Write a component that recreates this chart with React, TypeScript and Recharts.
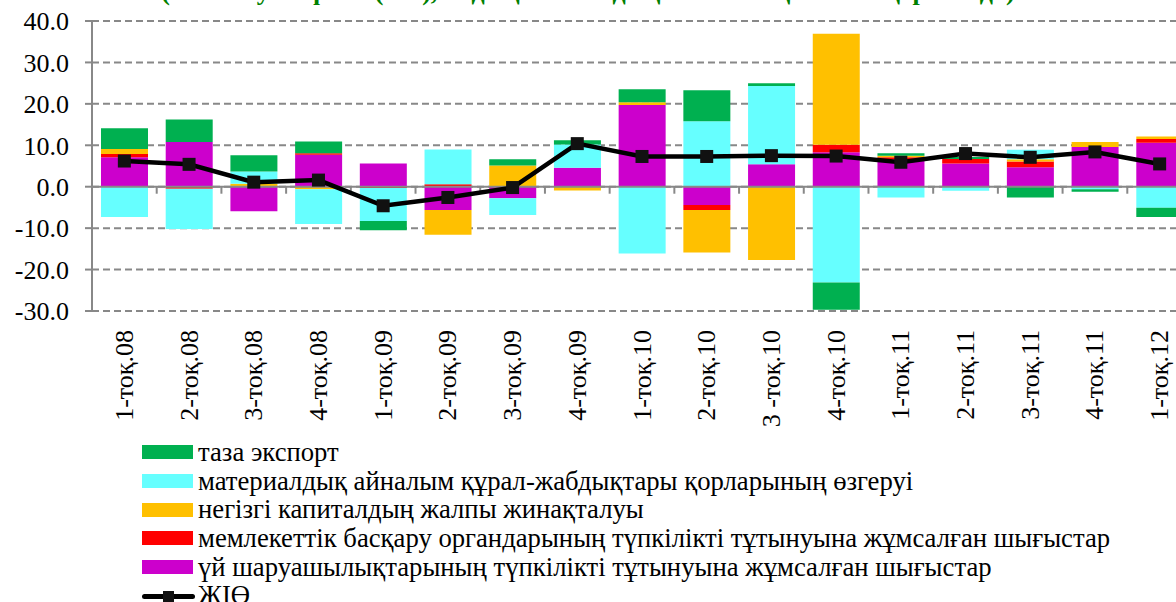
import { ComposedChart, Bar, Line, XAxis, YAxis, CartesianGrid, ReferenceLine } from 'recharts';

const quarters = [
  '1-тоқ.08', '2-тоқ.08', '3-тоқ.08', '4-тоқ.08',
  '1-тоқ.09', '2-тоқ.09', '3-тоқ.09', '4-тоқ.09',
  '1-тоқ.10', '2-тоқ.10', '3 -тоқ.10', '4-тоқ.10',
  '1-тоқ.11', '2-тоқ.11', '3-тоқ.11', '4-тоқ.11',
  '1-тоқ.12',
];

// contributions to growth, p.p.
const households = [7.1, 10.8, -5.9, 7.7, 5.6, -5.6, -2.8, 4.6, 19.7, -4.4, 5.4, 8.3, 6.6, 5.6, 4.7, 9.6, 10.6];
const government = [0.8, -0.5, 0, 0.4, -0.3, 0.6, 0, 0, 0, -1.2, 0, 1.8, 0.5, 1.1, 1.4, 0, 0.9];
const capital = [1.2, 0, 0.7, -0.6, 0, -6.0, 5.1, -0.9, 0.7, -10.3, -17.7, 26.8, 0.4, 0, 0.5, 1.2, 0.6];
const inventories = [-7.3, -9.7, 3.0, -8.4, -8.0, 8.4, -4.0, 5.6, -16.1, 15.8, 18.9, -23.1, -2.6, -1.0, 2.3, -0.6, -5.1];
const netExport = [5.0, 5.4, 3.9, 2.8, -2.2, 0, 1.5, 1.0, 3.1, 7.5, 0.7, -6.6, 0.6, 0.5, -2.6, -0.6, -2.2];
const gdp = [6.2, 5.4, 1.1, 1.6, -4.6, -2.6, -0.2, 10.4, 7.3, 7.3, 7.5, 7.4, 5.9, 8.0, 7.1, 8.4, 5.5];

const yTicks = [-30, -20, -10, 0, 10, 20, 30, 40];

const legendItems = [
  { name: 'таза экспорт', color: '#00B050' },
  { name: 'материалдық айналым құрал-жабдықтары қорларының өзгеруі', color: '#66FFFF' },
  { name: 'негізгі капиталдың жалпы жинақталуы', color: '#FFC000' },
  { name: 'мемлекеттік басқару органдарының түпкілікті тұтынуына жұмсалған шығыстар', color: '#FF0000' },
  { name: 'үй шаруашылықтарының түпкілікті тұтынуына жұмсалған шығыстар', color: '#CC00CC' },
];

const data = quarters.map((q, i) => ({
  quarter: q,
  households: households[i],
  government: government[i],
  capital: capital[i],
  inventories: inventories[i],
  netExport: netExport[i],
  gdp: gdp[i],
}));

const FONT = '"Liberation Serif", "Times New Roman", Times, Tinos, "Noto Serif", FreeSerif, "DejaVu Serif", serif';

function QuarterTick(props: any) {
  const { x, payload } = props;
  const y = 330;
  return (
    <text
      x={x}
      y={y}
      transform={`rotate(-90, ${x}, ${y})`}
      textAnchor="end"
      dominantBaseline="central"
      fontSize={26}
      fontFamily={FONT}
      fill="#000"
    >
      {payload.value}
    </text>
  );
}

function SquareDot(props: any) {
  const { cx, cy } = props;
  if (cx == null || cy == null) return null;
  return <rect x={cx - 6.5} y={cy - 6.5} width={13} height={13} fill="#111" />;
}

function ZeroAxis(props: any) {
  const { x1, y1, x2 } = props;
  const n = quarters.length;
  const step = (x2 - x1) / n;
  return (
    <g>
      <line x1={x1} y1={y1} x2={x2} y2={y1} stroke="#888" strokeWidth={2} />
      {quarters.map((q, i) => (
        <line key={q} x1={x1 + (i + 1) * step} y1={y1} x2={x1 + (i + 1) * step} y2={y1 + 7} stroke="#888" strokeWidth={2} />
      ))}
    </g>
  );
}

export default function App() {
  return (
    <div style={{ position: 'fixed', left: 0, top: 0, width: 1176, height: 602, overflow: 'hidden', background: '#fff', fontFamily: FONT }}>
      <div style={{
        position: 'absolute', left: 0, width: 1176, top: -21, textAlign: 'center',
        fontSize: 26, lineHeight: '26px', fontWeight: 'bold', color: '#008000', whiteSpace: 'nowrap',
      }}>
        (ЖІӨ өсуіне үлесі (п.т.), алдыңғы жылдың сәйкес тоқсанына қарағанда)
      </div>

      <div style={{ position: 'absolute', left: 0, top: 0 }}>
        <ComposedChart
          width={1195}
          height={602}
          data={data}
          stackOffset="sign"
          barSize={47}
          margin={{ top: 21, right: 3, bottom: 0, left: 0 }}
        >
          <CartesianGrid vertical={false} stroke="#888" strokeWidth={2} strokeDasharray="7 4" />
          <XAxis
            dataKey="quarter"
            height={291}
            interval={0}
            axisLine={false}
            tickLine={false}
            tick={<QuarterTick />}
          />
          <YAxis
            domain={[-30, 40]}
            ticks={yTicks}
            interval={0}
            width={92}
            tickFormatter={(v: number) => v.toFixed(1)}
            axisLine={{ stroke: '#888', strokeWidth: 2 }}
            tickLine={{ stroke: '#888', strokeWidth: 2 }}
            tickSize={7}
            tickMargin={16}
            tick={{ fill: '#000', fontSize: 26, fontFamily: FONT }}
          />
          <Bar dataKey="households" stackId="a" fill="#CC00CC" isAnimationActive={false} />
          <Bar dataKey="government" stackId="a" fill="#FF0000" isAnimationActive={false} />
          <Bar dataKey="capital" stackId="a" fill="#FFC000" isAnimationActive={false} />
          <Bar dataKey="inventories" stackId="a" fill="#66FFFF" isAnimationActive={false} />
          <Bar dataKey="netExport" stackId="a" fill="#00B050" isAnimationActive={false} />
          <ReferenceLine y={0} shape={<ZeroAxis />} />
          <Line
            dataKey="gdp"
            stroke="#000"
            strokeWidth={4.5}
            dot={<SquareDot />}
            activeDot={false}
            isAnimationActive={false}
          />
        </ComposedChart>
      </div>

      <div style={{ position: 'absolute', left: 142, top: 438, fontSize: 26.7, color: '#000' }}>
        {legendItems.map((item) => (
          <div key={item.name} style={{ display: 'flex', alignItems: 'center', height: 28.7, whiteSpace: 'nowrap' }}>
            <span style={{ display: 'inline-block', width: 51, height: 14, background: item.color, marginRight: 5, flexShrink: 0 }} />
            <span>{item.name}</span>
          </div>
        ))}
        <div style={{ display: 'flex', alignItems: 'center', height: 28.7, whiteSpace: 'nowrap' }}>
          <span style={{ position: 'relative', display: 'inline-block', width: 53, height: 14, marginRight: 3 }}>
            <span style={{ position: 'absolute', left: 0, right: 0, top: 5, height: 5, background: '#000', borderRadius: 3 }} />
            <span style={{ position: 'absolute', left: 21, top: 2, width: 11, height: 11, background: '#111' }} />
          </span>
          <span>ЖІӨ</span>
        </div>
      </div>
    </div>
  );
}
